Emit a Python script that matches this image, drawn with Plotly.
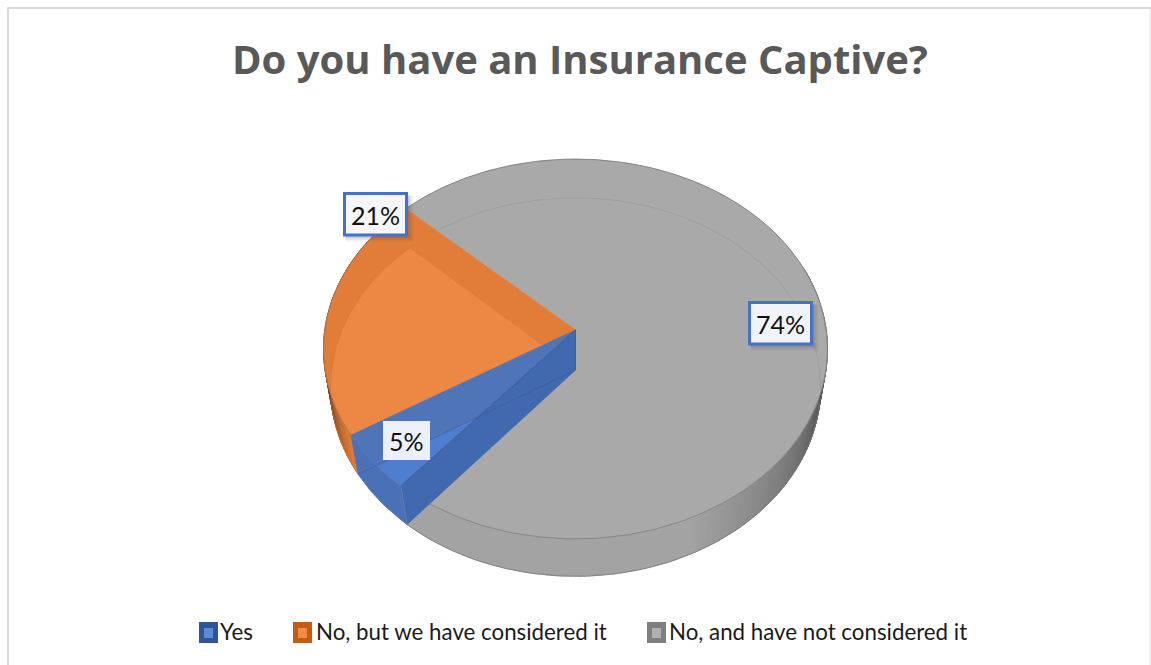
import math
import plotly.graph_objects as go

# Survey answers
categories = ["Yes", "No, but we have considered it", "No, and have not considered it"]
values = [5, 21, 74]
value_labels = ["5%", "21%", "74%"]
title_text = "Do you have an Insurance Captive?"

# Appearance of each slice: top face, face overlap, inner wall
face_colors = ["#4f74b8", "#ed8844", "#a9a9a9"]
bright_colors = ["#4d7ed0", "#ed8844", "#a9a9a9"]
dark_face_colors = ["#4f74b8", "#e17d38", "#a9a9a9"]
wall_color = ["#4169af", "#e17d38", "#a3a3a3"]
legend_outer = ["#2f5597", "#c55a11", "#7f7f7f"]
legend_inner = ["#5b8ad6", "#f08c47", "#b0b0b0"]

# Projection of the disc: perspective-tilted circles for the upper and lower faces
START_ANGLE = 220.0
UPPER = dict(cx=575.5, cy=330.0, a=188.0, b=250.7, k=0.10)
LOWER = dict(cx=575.5, cy=370.0, a=187.7, b=244.0, k=0.09)


def project(face, angle):
    t = math.radians(angle)
    sx, sy = math.sin(t), math.cos(t)
    w = 1 + face["k"] * sy
    return (face["cx"] + face["b"] * sx / w, face["cy"] - face["a"] * sy / w)


def arc(face, a0, a1, step=1.0):
    n = max(2, int(abs(a1 - a0) / step) + 1)
    return [project(face, a0 + (a1 - a0) * i / (n - 1)) for i in range(n)]


def wedge(face, a0, a1):
    apex = (face["cx"], face["cy"])
    return [apex] + arc(face, a0, a1) + [apex]


def clip_to(poly, convex):
    """Sutherland-Hodgman clip of poly against a convex polygon."""
    ring = convex[:-1] if convex[0] == convex[-1] else convex
    area = sum(ring[i][0] * ring[(i + 1) % len(ring)][1] - ring[(i + 1) % len(ring)][0] * ring[i][1]
               for i in range(len(ring)))
    sign = 1 if area > 0 else -1
    out = poly[:-1] if poly[0] == poly[-1] else poly
    for i in range(len(ring)):
        p, q = ring[i], ring[(i + 1) % len(ring)]
        if p == q:
            continue

        def side(r):
            return sign * ((q[0] - p[0]) * (r[1] - p[1]) - (q[1] - p[1]) * (r[0] - p[0]))

        result = []
        for j in range(len(out)):
            c, d = out[j], out[(j + 1) % len(out)]
            sc, sd = side(c), side(d)
            if sc >= 0:
                result.append(c)
            if sc * sd < 0:
                f = sc / (sc - sd)
                result.append((c[0] + (d[0] - c[0]) * f, c[1] + (d[1] - c[1]) * f))
        out = result
        if not out:
            return []
    return out + out[:1]


def mix(c0, c1, f):
    f = max(0.0, min(1.0, f))
    return "rgb(%d,%d,%d)" % tuple(round(u + (v - u) * f) for u, v in zip(c0, c1))


fig = go.Figure()


def add_poly(points, fill, line=None, width=0.0):
    fig.add_trace(go.Scatter(
        x=[p[0] for p in points], y=[p[1] for p in points],
        mode="lines", fill="toself", fillcolor=fill,
        line=dict(color=line or fill, width=width if line else 0.8),
        hoverinfo="skip", showlegend=False))


def add_line(points, color, width=1.0):
    fig.add_trace(go.Scatter(
        x=[p[0] for p in points], y=[p[1] for p in points],
        mode="lines", line=dict(color=color, width=width),
        hoverinfo="skip", showlegend=False))


# Slice boundaries, clockwise from the start angle
total = sum(values)
edges = [START_ANGLE]
for v in values:
    edges.append(edges[-1] + 360.0 * v / total)
blue0, blue1 = edges[0], edges[1]
orange0, orange1 = edges[1], edges[2]
gray0, gray1 = edges[2], edges[3]


def rim_quad(a0, a1):
    return [project(UPPER, a0), project(UPPER, a1), project(LOWER, a1), project(LOWER, a0)]


# Rim wall of the grey slice, darkening sharply toward the right-hand side
for ang in range(70, int(blue0)):
    f = max(0.0, (ang - 97) / 58.0) ** 0.7
    shade = mix((55, 55, 55), (163, 163, 163), f)
    quad = rim_quad(ang, ang + 1.2)
    add_poly(quad + quad[:1], shade)

# Rim wall of the orange slice, darkening toward the left-hand side
for ang in range(int(orange0), 300):
    shade = mix((226, 125, 56), (105, 58, 28), ((ang - orange0) / 24.0))
    quad = rim_quad(ang, ang + 1.2)
    add_poly(quad + quad[:1], shade)

# Grey slice: upper face plus faint traces of the lower face
add_poly(wedge(UPPER, gray0, gray1), face_colors[2])
add_line(arc(UPPER, gray0, gray1), "rgba(120,120,120,0.75)", 1.0)
add_line(arc(LOWER, 295, 470), "rgba(120,120,120,0.22)", 1.0)
add_line(arc(LOWER, 100, blue0), "rgba(120,120,120,0.75)", 1.0)

# Orange slice
orange_top = wedge(UPPER, orange0, orange1)
orange_low = wedge(LOWER, orange0, orange1)
add_poly(orange_top, dark_face_colors[1])
add_poly(clip_to(orange_low, orange_top), bright_colors[1])
add_line(arc(LOWER, orange1 - 75, orange1), "rgba(205,110,50,0.6)", 1.0)
add_line(arc(UPPER, orange0, orange1), "rgba(170,110,70,0.7)", 1.0)

# Blue slice: rim, upper face, overlap with the lower face, then the inner wall
blue_top = wedge(UPPER, blue0, blue1)
blue_low = wedge(LOWER, blue0, blue1)
add_poly(arc(UPPER, blue0, blue1) + arc(LOWER, blue1, blue0), "#4a70b6")
add_poly(blue_top, face_colors[0])
add_poly(clip_to(blue_low, blue_top), bright_colors[0])
inner = [project(UPPER, blue0), (UPPER["cx"], UPPER["cy"]), (LOWER["cx"], LOWER["cy"]), project(LOWER, blue0)]
add_poly(inner + inner[:1], wall_color[0])
add_line([(LOWER["cx"], LOWER["cy"]), project(LOWER, blue1)], "rgba(60,90,150,0.6)", 1.0)
add_line([(UPPER["cx"], UPPER["cy"]), project(UPPER, blue0)], "rgba(70,90,130,0.7)", 1.0)
add_line([project(UPPER, blue0), project(LOWER, blue0)], "rgba(120,130,150,0.7)", 1.0)
add_line(arc(UPPER, blue0, 229), "rgba(120,130,150,0.5)", 1.0)
add_line([(UPPER["cx"], UPPER["cy"]), (LOWER["cx"], LOWER["cy"])], "rgba(60,80,130,0.6)", 1.0)

shapes = [
    # Chart frame
    dict(type="line", x0=8, x1=8, y0=7, y1=665, line=dict(color="#d9d9d9", width=2)),
    dict(type="line", x0=7, x1=1151, y0=8, y1=8, line=dict(color="#dcdcdc", width=2)),
    dict(type="line", x0=1150, x1=1150, y0=8, y1=665, line=dict(color="#e2e2e2", width=1)),
]

# Value callouts: box extents with a soft drop shadow
callouts = [
    dict(text=value_labels[1], x0=344.5, x1=406.5, y0=193.5, y1=235, border="#4472c4", fill="#f7f6f7"),
    dict(text=value_labels[2], x0=749.5, x1=811.5, y0=302.5, y1=344, border="#4472c4", fill="#f2f3f7"),
    dict(text=value_labels[0], x0=383, x1=430, y0=421, y1=460, border=None, fill="#ecf0f8"),
]
annotations = []
for box in callouts:
    if box["border"]:
        for off, alpha in ((7, 0.06), (5, 0.09), (3, 0.14)):
            shapes.append(dict(type="rect", x0=box["x0"] + 1, x1=box["x1"] + off, y0=box["y0"] + 2,
                               y1=box["y1"] + off, line=dict(width=0),
                               fillcolor="rgba(50,60,90,%.2f)" % alpha))
    shapes.append(dict(type="rect", x0=box["x0"], x1=box["x1"], y0=box["y0"], y1=box["y1"],
                       fillcolor=box["fill"],
                       line=dict(color=box["border"] or box["fill"], width=3 if box["border"] else 0)))
    annotations.append(dict(x=(box["x0"] + box["x1"]) / 2, y=(box["y0"] + box["y1"]) / 2 + 0.5,
                            xref="x", yref="y", text=box["text"], showarrow=False,
                            font=dict(family="Lato", size=25, color="#111111")))

# Legend row
legend_x = [199, 293, 647]
legend_text_x = [218, 314, 667]
LEG_Y0, LEG_Y1 = 622, 643
for i, name in enumerate(categories):
    x0 = legend_x[i]
    shapes.append(dict(type="rect", x0=x0, x1=x0 + 19, y0=LEG_Y0, y1=LEG_Y1, fillcolor=legend_outer[i],
                       line=dict(width=0)))
    shapes.append(dict(type="rect", x0=x0 + 5, x1=x0 + 14, y0=LEG_Y0 + 6, y1=LEG_Y1 - 5,
                       fillcolor=legend_inner[i], line=dict(width=0)))
    annotations.append(dict(x=legend_text_x[i], y=631, xref="x", yref="y", xanchor="left", text=name,
                            showarrow=False, font=dict(family="Lato", size=22.3, color="#1a1a1a")))

annotations.append(dict(x=580, y=58, xref="x", yref="y", text="<b>%s</b>" % title_text, showarrow=False,
                        font=dict(family="Open Sans", size=40, color="#595959")))

fig.update_layout(
    width=1151, height=665, margin=dict(l=0, r=0, t=0, b=0),
    paper_bgcolor="white", plot_bgcolor="white", showlegend=False,
    xaxis=dict(range=[0, 1151], visible=False, fixedrange=True),
    yaxis=dict(range=[665, 0], visible=False, fixedrange=True),
    shapes=shapes, annotations=annotations,
)

fig.write_html("out.html", config=dict(displayModeBar=False))
